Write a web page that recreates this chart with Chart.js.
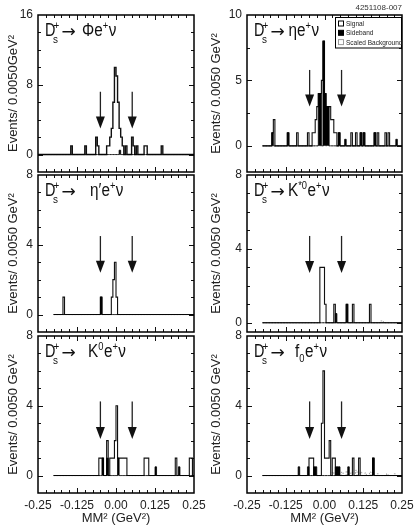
<!DOCTYPE html>
<html><head><meta charset="utf-8"><title>Ds semileptonic MM2</title>
<script src="https://cdn.jsdelivr.net/npm/chart.js@4.4.1/dist/chart.umd.min.js"></script>
<style>
html,body{margin:0;padding:0;background:#fff;}
body{position:relative;width:417px;height:527px;overflow:hidden;}
canvas{position:absolute;}
</style></head><body>
<canvas id="c0" width="215" height="173" style="left:0px;top:0px"></canvas>
<canvas id="c1" width="217" height="173" style="left:200px;top:0px"></canvas>
<canvas id="c2" width="215" height="173" style="left:0px;top:160px"></canvas>
<canvas id="c3" width="217" height="173" style="left:200px;top:160px"></canvas>
<canvas id="c4" width="215" height="207" style="left:0px;top:320px"></canvas>
<canvas id="c5" width="217" height="207" style="left:200px;top:320px"></canvas>
<script>
// ---------------- data ----------------
const binWidth = 0.005;                       // GeV^2 per bin
const xMin = -0.25, xMax = 0.25, xStep = 0.025;
const xMajorTicks = [-0.25, -0.125, 0, 0.125, 0.25];
const xTickLabels = ['-0.25', '-0.125', '0.00', '0.125', '0.25'];
const xTitle = 'MM\u00B2 (GeV\u00B2)';
const legendLabels = ['Signal', 'Sideband', 'Scaled Background'];
const figureId = '4251108-007';

// histograms: [bin centre (GeV^2), events]
const phiSignal = [[-0.1425,1],[-0.0975,1],[-0.0625,2],[-0.0575,1],[-0.0275,1],[-0.0225,1],[-0.0175,2],[-0.0125,3],[-0.0075,6],[-0.0025,10],[0.0025,9],[0.0075,6],[0.0125,3],[0.0175,2],[0.0225,1],[0.0325,1],[0.0525,2],[0.0575,1],[0.0675,1],[0.0925,1],[0.0975,1],[0.1475,1]];
const phiSideband = [[0.0125,0.5]];

const etaSignal = [[-0.1675,1],[-0.1625,2],[-0.1175,1],[-0.0875,1],[-0.0525,1],[-0.0375,1],[-0.0325,1],[-0.0275,2],[-0.0225,3],[-0.0175,4],[-0.0125,4],[-0.0075,5],[-0.0025,8],[0.0025,4],[0.0075,3],[0.0125,3],[0.0175,3],[0.0225,2],[0.0275,2],[0.0325,1],[0.0375,1],[0.0475,1],[0.0875,1],[0.1025,1],[0.1175,1],[0.1275,1],[0.1625,1],[0.1725,1],[0.1975,1],[0.2075,1]];
const etaSideband = [[-0.1675,1],[-0.1175,1],[-0.0175,4],[-0.0125,4],[-0.0025,8],[0.0025,4],[0.0075,3],[0.0125,3],[0.0475,1],[0.0675,0.5],[0.1175,1],[0.1275,1],[0.1625,1],[0.2325,0.5]];

const etaPrimeSignal = [[-0.1675,1],[-0.0475,1],[-0.0125,1],[-0.0075,2],[-0.0025,3],[0.0025,1]];
const etaPrimeSideband = [[-0.0475,1]];

const kStarSignal = [[-0.0125,3],[-0.0075,3],[-0.0025,3],[0.0025,1],[0.0325,1],[0.0725,1],[0.0925,1],[0.1475,1]];
const kStarSideband = [[0.0375,0.5],[0.0725,1]];
const kStarBackground = [[0.1825,0.1],[0.1875,0.1]];

const k0Signal = [[-0.0525,1],[-0.0475,1],[-0.0425,1],[-0.0275,2],[-0.0175,1],[-0.0125,1],[-0.0075,1],[-0.0025,2],[0.0025,4],[0.0075,1],[0.0125,1],[0.0175,1],[0.0225,1],[0.0275,1],[0.0325,1],[0.0925,1],[0.0975,1],[0.1025,1],[0.1925,1],[0.2375,1],[0.2425,1]];
const k0Sideband = [[-0.0425,1],[-0.0275,1],[0.0075,1],[0.1275,0.5],[0.2025,0.5]];

const f0Signal = [[-0.0475,1],[-0.0425,1],[-0.0375,1],[-0.0075,3],[-0.0025,6],[0.0025,1],[0.0075,1],[0.0125,1],[0.0175,2],[0.0275,1],[0.0325,1],[0.0925,1],[0.1125,1],[0.1575,1]];
const f0Sideband = [[-0.0825,0.5],[-0.0525,0.5],[-0.0325,0.5],[-0.0275,0.5],[0.0375,0.5],[0.0425,0.5],[0.0475,0.5],[0.0775,0.5],[0.1575,1]];
const f0Background = [[0.0275,0.2],[0.0425,0.3],[0.0575,0.2],[0.0725,0.25],[0.0875,0.2],[0.1025,0.3],[0.1175,0.2],[0.1325,0.15],[0.1475,0.2],[0.1725,0.1],[0.2025,0.1],[0.2275,0.1]];

// per-panel axis values
const yTitles = ['Events/ 0.0050GeV\u00B2','Events/ 0.0050 GeV\u00B2','Events/ 0.0050 GeV\u00B2','Events/ 0.0050 GeV\u00B2','Events/ 0.0050 GeV\u00B2','Events/ 0.0050 GeV\u00B2'];
const yMins = [-2, -2, -1, -0.5, -1, -1];
const yMaxs = [16, 10, 8, 8, 8, 8];
const yTickSteps = [2, 2.5, 1, 1, 1, 1];
const yLabelTicks = [[0,8,16],[0,5,10],[0,4,8],[0,4,8],[0,4,8],[0,4,8]];
const histStarts = [-0.25, -0.2, -0.2, -0.2, -0.2, -0.2];
const arrowXs = [[-0.05,0.052],[-0.048,0.055],[-0.05,0.052],[-0.048,0.055],[-0.05,0.052],[-0.048,0.055]];
const arrowTops = [7.2, 5.8, 4.5, 4.7, 4.25, 4.25];
const arrowTips = [3.0, 3.0, 2.4, 2.7, 2.1, 2.1];
const decayLabels = [
  [['\u03A6e',0],['+',1],['\u03BD',0]],
  [['\u03B7e',0],['+',1],['\u03BD',0]],
  [['\u03B7\u2032e',0],['+',1],['\u03BD',0]],
  [['K',0],['*0',1],['e',0],['+',1],['\u03BD',0]],
  [['K',0],['0',1],['e',0],['+',1],['\u03BD',0]],
  [['f',0],['0',-1],['e',0],['+',1],['\u03BD',0]]
];
const signals = [phiSignal, etaSignal, etaPrimeSignal, kStarSignal, k0Signal, f0Signal];
const sidebands = [phiSideband, etaSideband, etaPrimeSideband, kStarSideband, k0Sideband, f0Sideband];
const backgrounds = [[], [], [], kStarBackground, [], f0Background];

// ---------------- layout (styles) ----------------
const FONT = "'Liberation Sans', Arial, Helvetica, sans-serif";
const layoutCfg = [
  {yW:38, padR:21, padT:15, padB:1, xH:0, tPad:6, mainDx:44},
  {yW:47, padR:15, padT:15, padB:1, xH:0, tPad:9, mainDx:41.5},
  {yW:38, padR:21, padT:15, padB:1, xH:0, tPad:6, mainDx:52},
  {yW:47, padR:15, padT:15, padB:1, xH:0, tPad:9, mainDx:41},
  {yW:38, padR:21, padT:16, padB:0, xH:34, tPad:6, mainDx:50},
  {yW:47, padR:15, padT:16, padB:0, xH:34, tPad:9, mainDx:48}
];

function histPoints(pairs, start) {
  const n = Math.round((xMax - start) / binWidth);
  const vals = new Array(n).fill(0);
  pairs.forEach(([c, v]) => {
    const i = Math.floor((c - start) / binWidth + 1e-6);
    if (i >= 0 && i < n) vals[i] = v;
  });
  const pts = vals.map((v, i) => ({x: start + i * binWidth, y: v}));
  pts.push({x: xMax, y: vals[n - 1]});
  return pts;
}
const near = (a, b) => Math.abs(a - b) < 1e-6;

function drawPiece(ctx, t, x, y, font, sx) {
  ctx.save();
  ctx.translate(x, y); ctx.scale(sx, 1);
  ctx.font = font;
  ctx.fillText(t, 0, 0);
  const w = ctx.measureText(t).width * sx;
  ctx.restore();
  return w;
}

function drawDecay(ctx, a, segs, mainDx) {
  ctx.save();
  ctx.fillStyle = '#111';
  ctx.textAlign = 'left';
  ctx.textBaseline = 'alphabetic';
  const L = a.left, B = a.top + 21;
  drawPiece(ctx, 'D', L + 7, B, '18.5px ' + FONT, 0.78);
  drawPiece(ctx, '+', L + 15.5, B - 7, '11px ' + FONT, 0.9);
  drawPiece(ctx, 's', L + 15, B + 7, '11px ' + FONT, 0.9);
  drawPiece(ctx, '\u2192', L + 23.5, B + 1, "17px 'DejaVu Sans', sans-serif", 1);
  let cx = L + mainDx;
  segs.forEach(([t, pos]) => {
    const sup = pos !== 0;
    const dy = pos === 1 ? -7 : (pos === -1 ? 5 : 0);
    const w = drawPiece(ctx, t, cx, B + dy, (sup ? '11px ' : '18px ') + FONT, 0.85);
    cx += w + (sup ? 0.5 : 0);
  });
  ctx.restore();
}

function drawLegend(ctx, a) {
  const R = a.right, T = a.top;
  ctx.save();
  ctx.fillStyle = '#fff';
  ctx.fillRect(R - 67, T + 2, 67, 31);
  ctx.strokeStyle = '#000'; ctx.lineWidth = 1;
  ctx.strokeRect(R - 66.5, T + 2.5, 66, 30.5);
  const fills = [null, '#000', null], strokes = ['#000', '#000', '#999'];
  legendLabels.forEach((lab, i) => {
    const yy = T + 6 + i * 9.3;
    if (fills[i]) { ctx.fillStyle = fills[i]; ctx.fillRect(R - 63.5, yy, 5, 5); }
    ctx.strokeStyle = strokes[i];
    ctx.strokeRect(R - 63.5, yy, 5, 5);
    ctx.fillStyle = '#222';
    ctx.font = '6.5px ' + FONT;
    ctx.textBaseline = 'alphabetic';
    ctx.fillText(lab, R - 56, yy + 5);
  });
  ctx.fillStyle = '#333';
  ctx.font = '8px ' + FONT;
  ctx.textAlign = 'right';
  ctx.fillText(figureId, R, T - 5);
  ctx.restore();
}

function panelPlugin(k) {
  return {
    id: 'panelDecor' + k,
    afterDraw(chart) {
      const {ctx, chartArea: a, scales: {x, y}} = chart;
      ctx.save();
      // inward ticks
      ctx.strokeStyle = '#111'; ctx.lineWidth = 1;
      ctx.beginPath();
      y.ticks.forEach(t => {
        if (t.value <= y.min + 1e-9 || t.value >= y.max - 1e-9) return;
        const py = Math.round(y.getPixelForValue(t.value)) + 0.5;
        const len = yLabelTicks[k].some(v => near(v, t.value)) ? 5 : 3;
        ctx.moveTo(a.left, py); ctx.lineTo(a.left + len, py);
        ctx.moveTo(a.right, py); ctx.lineTo(a.right - len, py);
      });
      x.ticks.forEach(t => {
        if (t.value <= x.min + 1e-9 || t.value >= x.max - 1e-9) return;
        const px = Math.round(x.getPixelForValue(t.value)) + 0.5;
        const len = xMajorTicks.some(v => near(v, t.value)) ? 5 : 3;
        ctx.moveTo(px, a.bottom); ctx.lineTo(px, a.bottom - len);
        ctx.moveTo(px, a.top); ctx.lineTo(px, a.top + len);
      });
      ctx.stroke();
      // frame
      ctx.lineWidth = 1.5; ctx.strokeStyle = '#000';
      ctx.strokeRect(a.left, a.top, a.right - a.left, a.bottom - a.top);
      // selection arrows
      ctx.strokeStyle = '#222'; ctx.fillStyle = '#111'; ctx.lineWidth = 1.3;
      arrowXs[k].forEach(ax => {
        const px = x.getPixelForValue(ax);
        const pTop = y.getPixelForValue(arrowTops[k]);
        const pTip = y.getPixelForValue(arrowTips[k]);
        const base = pTip - 12;
        ctx.beginPath(); ctx.moveTo(px, pTop); ctx.lineTo(px, base + 1); ctx.stroke();
        ctx.beginPath(); ctx.moveTo(px - 4.5, base); ctx.lineTo(px + 4.5, base); ctx.lineTo(px, pTip); ctx.closePath(); ctx.fill();
      });
      ctx.restore();
      drawDecay(ctx, a, decayLabels[k], layoutCfg[k].mainDx);
      if (k === 1) drawLegend(ctx, a);
    }
  };
}

function makeChart(k) {
  const L = layoutCfg[k];
  const showX = L.xH > 0;
  const start = histStarts[k];
  return new Chart(document.getElementById('c' + k), {
    type: 'line',
    data: {
      datasets: [
        {label: legendLabels[1], data: histPoints(sidebands[k], start), stepped: 'before',
         borderColor: '#000', borderWidth: 0.8, backgroundColor: '#000', fill: 'origin', pointRadius: 0},
        {label: legendLabels[0], data: histPoints(signals[k], start), stepped: 'before',
         borderColor: '#111', borderWidth: k === 0 ? 1.4 : 1.1, fill: false, pointRadius: 0},
        {label: legendLabels[2], data: histPoints(backgrounds[k], start), stepped: 'before',
         borderColor: '#888', borderWidth: 0.8, borderDash: [1.5, 1.5], fill: false, pointRadius: 0}
      ]
    },
    options: {
      responsive: false, animation: false, devicePixelRatio: 1,
      layout: {autoPadding: false, padding: {left: 0, right: L.padR, top: L.padT, bottom: L.padB}},
      plugins: {legend: {display: false}, tooltip: {enabled: false}},
      scales: {
        x: {
          type: 'linear', min: xMin, max: xMax,
          grid: {display: false, drawTicks: false}, border: {display: false},
          ticks: {display: showX, stepSize: xStep, includeBounds: false, autoSkip: false, maxRotation: 0, minRotation: 0, padding: 5,
                  color: '#222', font: {family: FONT, size: 12},
                  callback: v => { const i = xMajorTicks.findIndex(m => near(m, v)); return i >= 0 ? xTickLabels[i] : ''; }},
          title: {display: showX, text: xTitle, color: '#222', font: {family: FONT, size: 13}, padding: {top: 0, bottom: 1}},
          afterFit: s => { s.height = L.xH; s.paddingLeft = 0; s.paddingRight = 0; s.paddingTop = 0; s.paddingBottom = 0; }
        },
        y: {
          type: 'linear', min: yMins[k], max: yMaxs[k],
          grid: {display: false, drawTicks: false}, border: {display: false},
          ticks: {stepSize: yTickSteps[k], includeBounds: false, autoSkip: false, padding: 5, color: '#222', font: {family: FONT, size: 12},
                  callback: v => yLabelTicks[k].some(m => near(m, v)) ? String(v) : ''},
          title: {display: true, text: yTitles[k], color: '#222', font: {family: FONT, size: 13}, padding: {top: L.tPad, bottom: 0}},
          afterFit: s => { s.width = L.yW; s.paddingTop = 0; s.paddingBottom = 0; s.paddingLeft = 0; s.paddingRight = 0; }
        }
      }
    },
    plugins: [panelPlugin(k)]
  });
}
for (let k = 0; k < 6; k++) makeChart(k);
</script>
</body></html>
